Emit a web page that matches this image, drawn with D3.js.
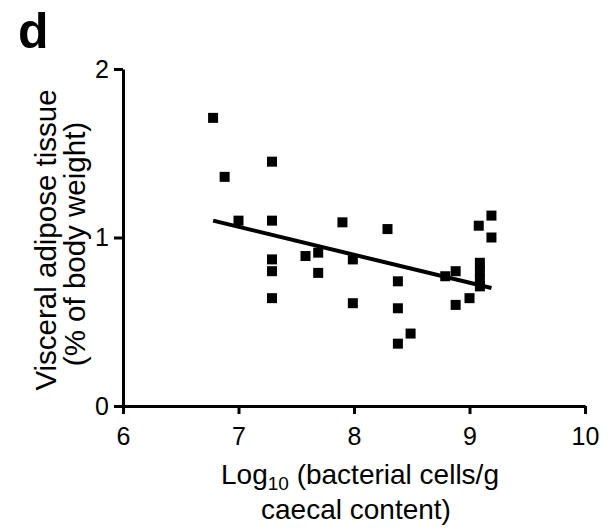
<!DOCTYPE html>
<html>
<head>
<meta charset="utf-8">
<script src="https://cdn.jsdelivr.net/npm/d3@7"></script>
<style>
  body { margin: 0; background: #fff; }
  svg { display: block; font-family: 'Liberation Sans', Arial, Helvetica, sans-serif; }
</style>
</head>
<body>
<svg id="chart" width="616" height="530"></svg>
<script>
// log10 bacterial cells per g caecal content
const logCells = [
  6.78, 6.88, 7.00, 7.29, 7.29, 7.29, 7.29, 7.29,
  7.58, 7.69, 7.69, 7.90, 7.99, 7.99, 8.29,
  8.38, 8.38, 8.38, 8.49, 8.79, 8.88, 8.88, 9.00,
  9.08, 9.19, 9.19, 9.09, 9.09, 9.09, 9.09
]
// visceral adipose tissue, % of body weight
const adipose = [
  1.71, 1.36, 1.10, 1.45, 1.10, 0.87, 0.80, 0.64,
  0.89, 0.91, 0.79, 1.09, 0.87, 0.61, 1.05,
  0.74, 0.58, 0.37, 0.43, 0.77, 0.80, 0.60, 0.64,
  1.07, 1.13, 1.00, 0.85, 0.80, 0.75, 0.71
]
// fitted line ends
const fitX = [6.78, 9.19]
const fitY = [1.10, 0.70]

const xTicks = [6, 7, 8, 9, 10]
const yTicks = [0, 1, 2]

const svg = d3.select('#chart')
const x = d3.scaleLinear().domain([6, 10]).range([123, 585])
const y = d3.scaleLinear().domain([0, 2]).range([406, 69])

// panel letter
svg.append('text')
  .attr('x', 18)
  .attr('y', 48)
  .style('font-size', '50px')
  .style('font-weight', 'bold')
  .text('d')

// Axes
const xAxis = svg.append('g')
  .attr('transform', `translate(0,${y(0)})`)
  .call(d3.axisBottom(x).tickValues(xTicks).tickFormat(d3.format('d'))
    .tickSize(8).tickSizeOuter(0).tickPadding(13))

const yAxis = svg.append('g')
  .attr('transform', `translate(${x(6)},0)`)
  .call(d3.axisLeft(y).tickValues(yTicks).tickFormat(d3.format('d'))
    .tickSize(9).tickSizeOuter(0).tickPadding(5))

for (const ax of [xAxis, yAxis]) {
  ax.select('.domain').attr('stroke', '#000').attr('stroke-width', 3)
  ax.selectAll('.tick line').attr('stroke', '#000').attr('stroke-width', 3)
  ax.selectAll('.tick text')
    .attr('fill', '#000')
    .style('font-size', '25px')
    .style('font-family', "'Liberation Sans', Arial, sans-serif")
}

// Regression line
svg.append('line')
  .attr('x1', x(fitX[0]))
  .attr('y1', y(fitY[0]))
  .attr('x2', x(fitX[1]))
  .attr('y2', y(fitY[1]))
  .attr('stroke', '#000')
  .attr('stroke-width', 4)

// Points
const pts = logCells.map((v, i) => ({ cx: v, cy: adipose[i] }))
const size = 10
svg.append('g')
  .selectAll('rect')
  .data(pts)
  .join('rect')
  .attr('x', d => x(d.cx) - size / 2)
  .attr('y', d => y(d.cy) - size / 2)
  .attr('width', size)
  .attr('height', size)
  .attr('fill', '#000')

// Axis titles
const xTitle = svg.append('text')
  .attr('text-anchor', 'middle')
  .style('font-size', '28px')
xTitle.append('tspan')
  .attr('x', 360).attr('y', 484)
  .text('Log')
xTitle.append('tspan')
  .attr('dy', 6)
  .style('font-size', '19px')
  .text('10')
xTitle.append('tspan')
  .attr('dy', -6)
  .text(' (bacterial cells/g')

svg.append('text')
  .attr('x', 356)
  .attr('y', 519)
  .attr('text-anchor', 'middle')
  .style('font-size', '28px')
  .text('caecal content)')

svg.append('text')
  .attr('transform', 'translate(56,240) rotate(-90)')
  .attr('text-anchor', 'middle')
  .style('font-size', '29.5px')
  .text('Visceral adipose tissue')

svg.append('text')
  .attr('transform', 'translate(85,244) rotate(-90)')
  .attr('text-anchor', 'middle')
  .style('font-size', '29.5px')
  .text('(% of body weight)')
</script>
</body>
</html>
